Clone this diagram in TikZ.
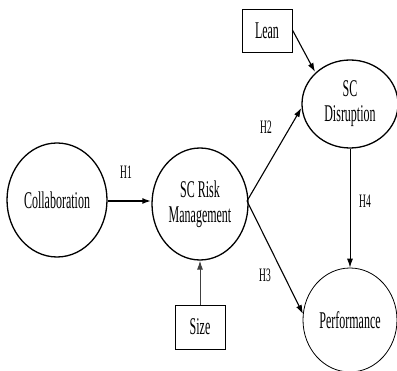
\documentclass[tikz,border=0pt]{standalone}
\usepackage{fontspec}
\setmainfont{Liberation Serif}[FakeStretch=0.5]
\usetikzlibrary{shapes.geometric,arrows.meta}
\begin{document}
\begin{tikzpicture}[x=1pt,y=-1pt,
  construct/.style={ellipse,draw,line width=1.3pt,inner sep=0pt,align=center,font=\fontsize{24}{25}\selectfont},
  ctrl/.style={rectangle,draw,line width=0.9pt,inner sep=0pt,font=\fontsize{24}{25}\selectfont},
  path/.style={line width=1.1pt,-{Latex[length=9pt,width=6pt]}},
  hlab/.style={font=\fontsize{19}{20}\selectfont,inner sep=0pt}]
\clip (0,0) rectangle (397,371);
\fill[white] (0,0) rectangle (397,371);
\node[construct,minimum width=100pt,minimum height=114pt] (collab) at (57,200) {Collaboration};
\node[construct,minimum width=96pt,minimum height=112pt] (srm) at (200,204) {SC Risk\\Management};
\node[construct,minimum width=96pt,minimum height=88pt] (disr) at (350,104) {SC\\Disruption};
\node[construct,line width=0.8pt,minimum width=94pt,minimum height=104pt] (perf) at (350,320) {Performance};
\node[ctrl,minimum width=50pt,minimum height=43pt] (lean) at (267,30.5) {Lean};
\node[ctrl,minimum width=50pt,minimum height=44pt] (size) at (200,327) {Size};
\coordinate (srmR) at (247,201);
\draw[path,line width=2.2pt] (collab.east |- 0,201) -- (srm.west |- 0,201);
\draw[path] (srmR) -- (disr.west |- 0,108) ;
\draw[path] (srmR) -- (303,314);
\draw[path] (lean.east |- 0,30) -- (315,72);
\draw[path,line width=0.9pt] (disr.south) -- (perf.north);
\draw[path,draw=black!75,line width=1pt] (size.north) -- (srm.south);
\node[hlab] (h1) at (126,172) {H1};
\node[hlab] (h2) at (266,127) {H2};
\node[hlab] (h3) at (265,275) {H3};
\node[hlab] (h4) at (365,201) {H4};
\end{tikzpicture}
\end{document}
